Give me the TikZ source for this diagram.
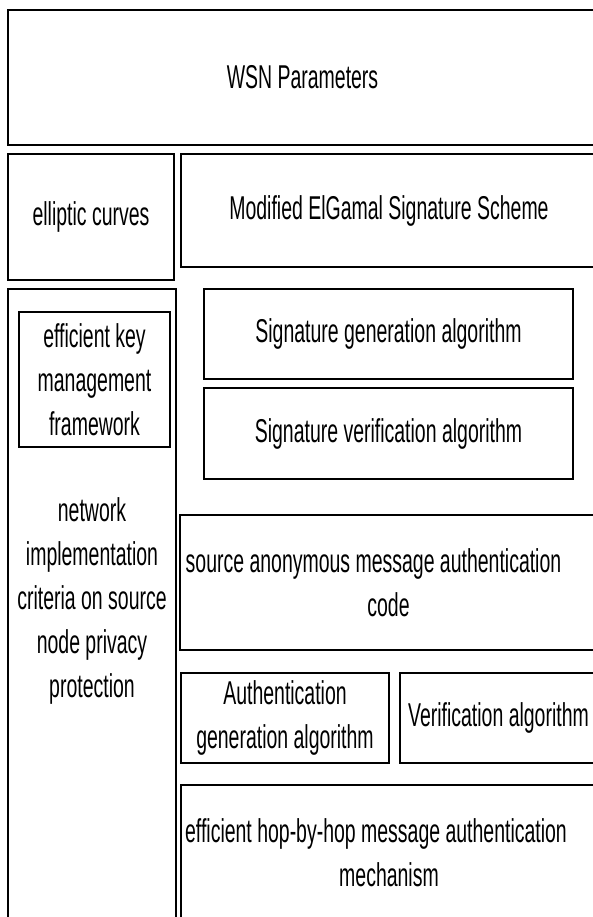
\documentclass[tikz,border=0pt]{standalone}
\usepackage{fontspec}
\setmainfont[FakeStretch=0.59]{Liberation Sans}
\tikzset{
    lbl/.style={align=center, inner sep=0pt, font=\fontsize{33pt}{44pt}\selectfont},
    blk/.style={lbl, draw, rectangle, line width=2.6pt},
}

\begin{document}
\begin{tikzpicture}[x=1pt, y=-1pt]
    \useasboundingbox[fill=white] (0, 0) rectangle (592, 917);

    % Top layers
    \node (wsn) at (302.5, 77.5) [blk, minimum width=589pt, minimum height=135pt] {WSN Parameters};
    \node (ec) at (91, 217) [blk, minimum width=166pt, minimum height=126pt] {elliptic curves};
    \node (elg) at (389, 210.5) [blk, minimum width=416pt, minimum height=113pt] {Modified ElGamal Signature Scheme};

    % Left column
    \node (priv) at (92, 604.5) [blk, minimum width=168pt, minimum height=631pt] {};
    \node (key) at (94.5, 379.5) [blk, minimum width=151pt, minimum height=135pt] {efficient key \\ management \\ framework};
    \node (priv_txt) at (92, 601) [lbl] {network \\ implementation \\ criteria on source \\ node privacy \\ protection};

    % Signature algorithms
    \node (sig_gen) at (388.5, 334) [blk, minimum width=369pt, minimum height=90pt] {Signature generation algorithm};
    \node (sig_ver) at (388.5, 433.5) [blk, minimum width=369pt, minimum height=91pt] {Signature verification algorithm};

    % Message authentication
    \node (samac) at (388.5, 582.5) [blk, minimum width=417pt, minimum height=135pt] {source anonymous message authentication\hspace*{30pt} \\ code};
    \node (auth_gen) at (285, 718) [blk, minimum width=208pt, minimum height=90pt] {Authentication \\ generation algorithm};
    \node (auth_ver) at (498.5, 718) [blk, minimum width=197pt, minimum height=90pt] {Verification algorithm};
    \node (hop) at (389, 852.5) [blk, minimum width=416pt, minimum height=135pt] {efficient hop-by-hop message authentication\hspace*{26pt} \\ mechanism};
\end{tikzpicture}
\end{document}
